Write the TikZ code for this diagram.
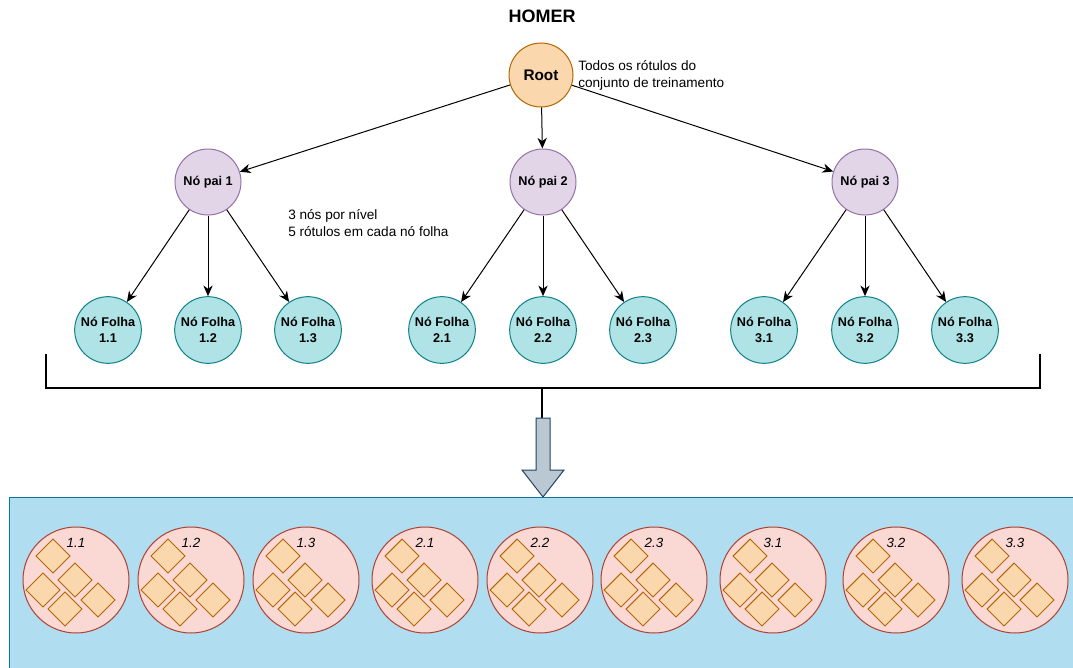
\documentclass[tikz,border=0pt]{standalone}
\usepackage{fontspec}
\setmainfont{Liberation Sans}
\usetikzlibrary{arrows.meta}
\definecolor{rootfill}{HTML}{FAD7AC}
\definecolor{rootdraw}{HTML}{B46504}
\definecolor{paifill}{HTML}{E1D5E7}
\definecolor{paidraw}{HTML}{9673A6}
\definecolor{leaffill}{HTML}{B0E3E6}
\definecolor{leafdraw}{HTML}{0E8088}
\definecolor{bgfill}{HTML}{B1DDF0}
\definecolor{bgdraw}{HTML}{10739E}
\definecolor{arrfill}{HTML}{BAC8D3}
\definecolor{arrdraw}{HTML}{23445D}
\definecolor{grpfill}{HTML}{FAD9D5}
\definecolor{grpdraw}{HTML}{AE4132}
\tikzset{
  x=0.75pt, y=-0.75pt,
  base/.style={circle, inner sep=0pt, line width=0.75pt, align=center,
    font=\bfseries\fontsize{9.5}{12}\selectfont},
  rootnode/.style={base, fill=rootfill, draw=rootdraw, minimum size=48pt,
    font=\bfseries\fontsize{11.5}{13}\selectfont},
  painode/.style={base, fill=paifill, draw=paidraw, minimum size=49.5pt},
  leafnode/.style={base, fill=leaffill, draw=leafdraw, minimum size=50pt},
  note/.style={align=left, inner sep=0pt, font=\fontsize{10.2}{12.5}\selectfont},
  conn/.style={line width=0.75pt, -{Stealth[length=8pt,width=7pt,inset=2.5pt]}},
  grpnode/.style={circle, fill=grpfill, draw=grpdraw, line width=0.75pt, minimum size=79.5pt, inner sep=0pt},
  itemnode/.style={rectangle, fill=rootfill, draw=rootdraw, line width=0.75pt, minimum size=18pt, inner sep=0pt, rotate=45},
  grplabel/.style={inner sep=0pt, font=\itshape\fontsize{10}{12}\selectfont},
}
\begin{document}
\begin{tikzpicture}
\useasboundingbox (0,0) rectangle (1073,667);
\clip (0,0) rectangle (1073,667);
\fill[white] (0,0) rectangle (1073,667);

% title
\node[font=\bfseries\fontsize{13.5}{15}\selectfont, inner sep=0pt] (title) at (542,16) {HOMER};

% root
\node[rootnode] (root) at (541,75) {Root};
\node[note, anchor=west, font=\fontsize{10.2}{12.8}\selectfont] (rootnote) at (578,75.5) {Todos os rótulos do\\conjunto de treinamento};

% parents
\node[painode] (p1) at (208,182) {Nó pai 1};
\node[painode] (p2) at (543,182) {Nó pai 2};
\node[painode] (p3) at (865,182) {Nó pai 3};
\node[note, anchor=west] (levelnote) at (288,223) {3 nós por nível\\5 rótulos em cada nó folha};

% leaves
\node[leafnode] (l11) at (108,330) {Nó Folha\\1.1};
\node[leafnode] (l12) at (208,330) {Nó Folha\\1.2};
\node[leafnode] (l13) at (308,330) {Nó Folha\\1.3};
\node[leafnode] (l21) at (442,330) {Nó Folha\\2.1};
\node[leafnode] (l22) at (543,330) {Nó Folha\\2.2};
\node[leafnode] (l23) at (643,330) {Nó Folha\\2.3};
\node[leafnode] (l31) at (764,330) {Nó Folha\\3.1};
\node[leafnode] (l32) at (865,330) {Nó Folha\\3.2};
\node[leafnode] (l33) at (965,330) {Nó Folha\\3.3};

% connectors
\draw[conn] (root) -- (p1);
\draw[conn] (root) -- (p2);
\draw[conn] (root) -- (p3);
\draw[conn] (p1) -- (l11);
\draw[conn] (p1) -- (l12);
\draw[conn] (p1) -- (l13);
\draw[conn] (p2) -- (l21);
\draw[conn] (p2) -- (l22);
\draw[conn] (p2) -- (l23);
\draw[conn] (p3) -- (l31);
\draw[conn] (p3) -- (l32);
\draw[conn] (p3) -- (l33);

% bracket
\coordinate (bl) at (46,354);
\coordinate (br) at (1040,354);
\coordinate (bm) at (542,388);
\coordinate (bstem) at (542,418);
\draw[line width=1.5pt] (bl) |- (bm) -| (br);
\draw[line width=1.5pt] (bm) -- (bstem);

% block arrow
\draw[fill=arrfill, draw=arrdraw, line width=0.75pt, line join=miter]
  (536,418) -- (550,418) -- (550,470) -- (564,470) -- (543,497) -- (522,470) -- (536,470) -- cycle;

% background panel
\draw[fill=bgfill, draw=bgdraw, line width=0.75pt] (9,497) rectangle (1080,680);

% groups
\foreach \cx/\lab [count=\i] in {76/1.1, 191/1.2, 306/1.3, 425/2.1, 540/2.2, 654/2.3, 773/3.1, 896/3.2, 1015/3.3} {
  \node[grpnode] (g\i) at (\cx,580) {};
  \node[itemnode] (g\i-a) at (\cx-23,556) {};
  \node[itemnode] (g\i-b) at (\cx-1,580) {};
  \node[itemnode] (g\i-c) at (\cx-33,590) {};
  \node[itemnode] (g\i-d) at (\cx+22,600) {};
  \node[itemnode] (g\i-e) at (\cx-11,609) {};
  \node[grplabel] (g\i-l) at (\cx,543) {\lab};
}
\end{tikzpicture}
\end{document}
